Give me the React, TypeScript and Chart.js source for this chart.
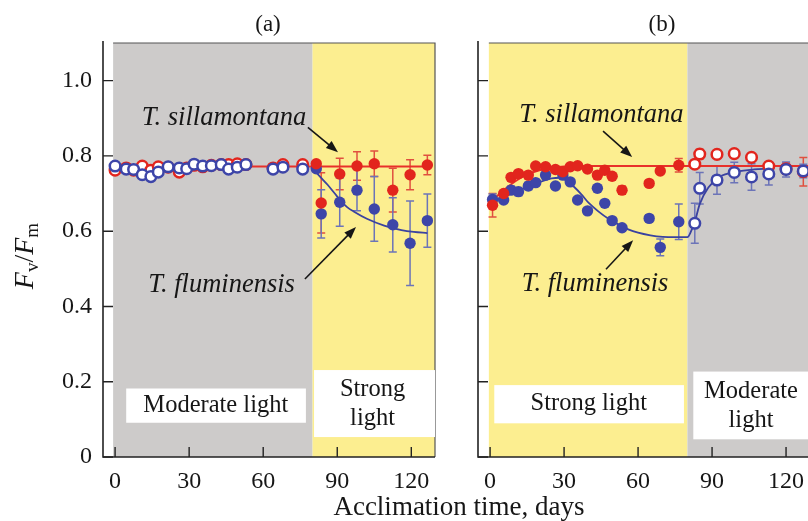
import React, { useEffect, useRef } from "react";
import { Chart, registerables } from "chart.js";

Chart.register(...registerables);

const SERIF = '"Liberation Serif", "Times New Roman", Times, serif';
const RED = "#e2251d";
const BLUE = "#3d45a8";
const RED_ERR = "#e0503f";
const BLUE_ERR = "#6c74b8";
const RED_FIT = "#e8302a";
const BLUE_FIT = "#3a42a0";
const GRAY = "#cdcbca";
const YELLOW = "#fcee90";
const INK = "#161616";

const xTickValues = [0, 30, 60, 90, 120];
const yTickValues = [0, 0.2, 0.4, 0.6, 0.8, 1.0];

// ---------- Panel (a): moderate light, then strong light ----------
const aOpenDays = [0, 4.5, 7.5, 11, 14.5, 17.5, 21.5, 26, 29, 32, 35.5, 39, 43, 46, 49.5, 53, 64, 68, 76];
const aOpenBlue = [0.773, 0.765, 0.764, 0.75, 0.745, 0.757, 0.771, 0.768, 0.766, 0.778, 0.773, 0.774, 0.777, 0.765, 0.77, 0.777, 0.765, 0.77, 0.765];
const aOpenRed = [0.762, 0.768, 0.762, 0.773, 0.762, 0.771, 0.77, 0.757, 0.768, 0.775, 0.771, 0.775, 0.777, 0.777, 0.779, 0.777, 0.768, 0.777, 0.777];

const aFilledDays = [81.5, 83.5, 91, 98, 105, 112.5, 119.5, 126.5];
const aFilledRed = [0.779, 0.675, 0.752, 0.773, 0.779, 0.709, 0.75, 0.776];
const aFilledRedErr = [0, 0.08, 0.042, 0.038, 0.034, 0.058, 0.04, 0.026];
const aFilledBlue = [0.766, 0.646, 0.677, 0.709, 0.659, 0.617, 0.568, 0.628];
const aFilledBlueErr = [0, 0.064, 0.064, 0.055, 0.086, 0.072, 0.112, 0.071];

const aRedFitDays = [0, 126.5];
const aRedFitVals = [0.772, 0.772];
const aBlueFitDays = [80, 83, 86, 89, 91.5, 94, 97, 102, 109, 116, 121, 126.5];
const aBlueFitVals = [0.768, 0.745, 0.724, 0.7, 0.68, 0.664, 0.651, 0.633, 0.615, 0.603, 0.598, 0.595];

// ---------- Panel (b): strong light, then moderate light ----------
const bFilledDays = [1, 5.5, 8.5, 11.5, 15.5, 18.5, 22.5, 26.5, 29.5, 32.5, 35.5, 39.5, 43.5, 46.5, 49.5, 53.5, 64.5, 69, 76.5];
const bFilledRed = [0.669, 0.7, 0.743, 0.753, 0.749, 0.773, 0.771, 0.764, 0.758, 0.771, 0.774, 0.765, 0.749, 0.762, 0.746, 0.709, 0.727, 0.76, 0.775];
const bFilledRedErr = [0.031, 0, 0, 0, 0, 0, 0, 0, 0, 0, 0, 0, 0, 0, 0, 0.011, 0, 0, 0.018];
const bFilledBlue = [0.684, 0.683, 0.709, 0.705, 0.72, 0.729, 0.749, 0.72, 0.749, 0.731, 0.683, 0.654, 0.714, 0.674, 0.628, 0.609, 0.634, 0.557, 0.625];
const bFilledBlueErr = [0.015, 0, 0.011, 0.011, 0.01, 0, 0, 0, 0, 0, 0, 0, 0, 0, 0, 0, 0.009, 0.022, 0.047];

const bOpenDays = [83, 85, 92, 99, 106, 113, 120, 127];
const bOpenRed = [0.778, 0.805, 0.804, 0.806, 0.796, 0.773, 0.766, 0.758];
const bOpenRedErr = [0, 0.013, 0.008, 0.008, 0.01, 0.01, 0.015, 0.038];
const bOpenBlue = [0.621, 0.714, 0.736, 0.756, 0.744, 0.752, 0.764, 0.76];
const bOpenBlueErr = [0.053, 0.042, 0.038, 0.027, 0.035, 0.029, 0.02, 0.018];

const bRedFitDays = [0, 4, 8, 12, 16, 20, 25, 30, 35, 129];
const bRedFitVals = [0.675, 0.7, 0.722, 0.74, 0.753, 0.762, 0.768, 0.772, 0.773, 0.773];
const bBlueFitDays = [0, 5, 10, 15, 20, 25, 28, 31, 34, 37, 40, 44, 48, 52, 56, 60, 65, 70, 75, 80, 81.5, 83, 85, 88.5, 93, 100, 107, 113];
const bBlueFitVals = [0.68, 0.69, 0.703, 0.717, 0.73, 0.74, 0.742, 0.735, 0.718, 0.698, 0.675, 0.652, 0.633, 0.618, 0.605, 0.596, 0.589, 0.585, 0.584, 0.584, 0.6, 0.625, 0.672, 0.716, 0.744, 0.758, 0.764, 0.766];

const pts = (xs: number[], ys: number[]) => xs.map((x, i) => ({ x, y: ys[i] }));

type Region = { from: number; to: number; color: string };
type Box = { x0: number; x1: number; y0: number; y1: number; lines: string[]; tx: number; ty: number };
type Note = { text: string; tx: number; ty: number; ax0: number; ay0: number; ax1: number; ay1: number };
type ErrSet = { days: number[]; vals: number[]; errs: number[]; color: string };

interface PanelCfg {
  id: string;
  title: string;
  titleX: number;
  yAxisWidth: number;
  padRight: number;
  xMax: number;
  showYLabels: boolean;
  frameRight: boolean;
  shared: boolean;
  regions: Region[];
  boxes: Box[];
  notes: Note[];
  errs: ErrSet[];
  redOpen: { x: number; y: number }[];
  blueOpen: { x: number; y: number }[];
  redFilled: { x: number; y: number }[];
  blueFilled: { x: number; y: number }[];
  redFit: { x: number; y: number }[];
  blueFit: { x: number; y: number }[];
}

const panelA: PanelCfg = {
  id: "a",
  title: "(a)",
  titleX: 268,
  yAxisWidth: 103,
  padRight: 373,
  xMax: 129.6,
  showYLabels: true,
  frameRight: true,
  shared: true,
  regions: [
    { from: -0.8, to: 80, color: GRAY },
    { from: 80, to: 200, color: YELLOW },
  ],
  boxes: [
    { x0: 4.5, x1: 77.3, y0: 0.091, y1: 0.182, lines: ["Moderate light"], tx: 40.8, ty: 0.137 },
    { x0: 80.6, x1: 200, y0: 0.053, y1: 0.231, lines: ["Strong", "light"], tx: 104.3, ty: 0.14 },
  ],
  notes: [
    { text: "T. sillamontana", tx: 10.8, ty: 0.9, ax0: 78.1, ay0: 0.876, ax1: 90.3, ay1: 0.81 },
    { text: "T. fluminensis", tx: 13.4, ty: 0.457, ax0: 76.9, ay0: 0.473, ax1: 97.6, ay1: 0.611 },
  ],
  errs: [
    { days: aFilledDays, vals: aFilledRed, errs: aFilledRedErr, color: RED_ERR },
    { days: aFilledDays, vals: aFilledBlue, errs: aFilledBlueErr, color: BLUE_ERR },
  ],
  redOpen: pts(aOpenDays, aOpenRed),
  blueOpen: pts(aOpenDays, aOpenBlue),
  redFilled: pts(aFilledDays, aFilledRed),
  blueFilled: pts(aFilledDays, aFilledBlue),
  redFit: pts(aRedFitDays, aRedFitVals),
  blueFit: pts(aBlueFitDays, aBlueFitVals),
};

const panelB: PanelCfg = {
  id: "b",
  title: "(b)",
  titleX: 662,
  yAxisWidth: 478,
  padRight: 0,
  xMax: 128.9,
  showYLabels: false,
  frameRight: false,
  shared: false,
  regions: [
    { from: -0.5, to: 80, color: YELLOW },
    { from: 80, to: 200, color: GRAY },
  ],
  boxes: [
    { x0: 1.7, x1: 78.6, y0: 0.0895, y1: 0.191, lines: ["Strong light"], tx: 40, ty: 0.142 },
    { x0: 82.4, x1: 200, y0: 0.047, y1: 0.227, lines: ["Moderate", "light"], tx: 105.8, ty: 0.136 },
  ],
  notes: [
    { text: "T. sillamontana", tx: 11.8, ty: 0.908, ax0: 45.8, ay0: 0.866, ax1: 57.6, ay1: 0.797 },
    { text: "T. fluminensis", tx: 12.8, ty: 0.459, ax0: 47, ay0: 0.499, ax1: 58, ay1: 0.576 },
  ],
  errs: [
    { days: bFilledDays, vals: bFilledRed, errs: bFilledRedErr, color: RED_ERR },
    { days: bFilledDays, vals: bFilledBlue, errs: bFilledBlueErr, color: BLUE_ERR },
    { days: bOpenDays, vals: bOpenRed, errs: bOpenRedErr, color: RED_ERR },
    { days: bOpenDays, vals: bOpenBlue, errs: bOpenBlueErr, color: BLUE_ERR },
  ],
  redOpen: pts(bOpenDays, bOpenRed),
  blueOpen: pts(bOpenDays, bOpenBlue),
  redFilled: pts(bFilledDays, bFilledRed),
  blueFilled: pts(bFilledDays, bFilledBlue),
  redFit: pts(bRedFitDays, bRedFitVals),
  blueFit: pts(bBlueFitDays, bBlueFitVals),
};

function drawArrow(ctx: CanvasRenderingContext2D, x0: number, y0: number, x1: number, y1: number) {
  const ang = Math.atan2(y1 - y0, x1 - x0);
  const hl = 12;
  const hw = 4.5;
  const c = Math.cos(ang);
  const s = Math.sin(ang);
  ctx.strokeStyle = INK;
  ctx.lineWidth = 1.6;
  ctx.beginPath();
  ctx.moveTo(x0, y0);
  ctx.lineTo(x1 - c * hl * 0.8, y1 - s * hl * 0.8);
  ctx.stroke();
  ctx.fillStyle = INK;
  ctx.beginPath();
  ctx.moveTo(x1, y1);
  ctx.lineTo(x1 - hl * c + hw * s, y1 - hl * s - hw * c);
  ctx.lineTo(x1 - hl * c - hw * s, y1 - hl * s + hw * c);
  ctx.closePath();
  ctx.fill();
}

function drawYTitle(ctx: CanvasRenderingContext2D) {
  ctx.save();
  ctx.translate(33, 256);
  ctx.rotate(-Math.PI / 2);
  const parts = [
    { t: "F", f: `italic 28px ${SERIF}`, dy: 0 },
    { t: "v", f: `19px ${SERIF}`, dy: 5 },
    { t: "/", f: `28px ${SERIF}`, dy: 0 },
    { t: "F", f: `italic 28px ${SERIF}`, dy: 0 },
    { t: "m", f: `19px ${SERIF}`, dy: 5 },
  ];
  const widths = parts.map((p) => {
    ctx.font = p.f;
    return ctx.measureText(p.t).width;
  });
  const total = widths.reduce((a, b) => a + b, 0);
  let cx = -total / 2;
  ctx.textAlign = "left";
  ctx.textBaseline = "alphabetic";
  ctx.fillStyle = INK;
  parts.forEach((p, i) => {
    ctx.font = p.f;
    ctx.fillText(p.t, cx, p.dy);
    cx += widths[i];
  });
  ctx.restore();
}

function makePlugin(cfg: PanelCfg) {
  return {
    id: "panelDecor" + cfg.id,
    beforeDatasetsDraw(chart: any) {
      const { ctx, chartArea: ca } = chart;
      const x = chart.scales.x;
      const y = chart.scales.y;
      ctx.save();
      // shaded light regimes
      cfg.regions.forEach((r) => {
        const x0 = Math.max(x.getPixelForValue(r.from), ca.left);
        const x1 = Math.min(x.getPixelForValue(r.to), ca.right);
        ctx.fillStyle = r.color;
        ctx.fillRect(x0, ca.top, x1 - x0, ca.bottom - ca.top);
      });
      const shadeStart = Math.max(x.getPixelForValue(cfg.regions[0].from), ca.left);
      ctx.strokeStyle = "#555";
      ctx.lineWidth = 1.2;
      ctx.beginPath();
      ctx.moveTo(shadeStart, ca.top);
      ctx.lineTo(ca.right, ca.top);
      if (cfg.frameRight) ctx.lineTo(ca.right, ca.bottom);
      ctx.stroke();
      // label boxes
      cfg.boxes.forEach((b) => {
        const x0 = x.getPixelForValue(b.x0);
        const x1 = Math.min(x.getPixelForValue(b.x1), ca.right);
        const y0 = y.getPixelForValue(b.y1);
        const y1 = y.getPixelForValue(b.y0);
        ctx.fillStyle = "#ffffff";
        ctx.fillRect(x0, y0, x1 - x0, y1 - y0);
        ctx.fillStyle = INK;
        ctx.font = `24.5px ${SERIF}`;
        ctx.textAlign = "center";
        ctx.textBaseline = "middle";
        const lh = 28.5;
        const cy = y.getPixelForValue(b.ty);
        const tx = x.getPixelForValue(b.tx);
        b.lines.forEach((ln, i) => {
          ctx.fillText(ln, tx, cy + (i - (b.lines.length - 1) / 2) * lh);
        });
      });
      // error bars
      cfg.errs.forEach((e) => {
        ctx.strokeStyle = e.color;
        ctx.lineWidth = 1.5;
        e.days.forEach((d, i) => {
          const er = e.errs[i];
          if (!er) return;
          const px = x.getPixelForValue(d);
          const top = y.getPixelForValue(e.vals[i] + er);
          const bot = y.getPixelForValue(e.vals[i] - er);
          ctx.beginPath();
          ctx.moveTo(px, top);
          ctx.lineTo(px, bot);
          ctx.moveTo(px - 4, top);
          ctx.lineTo(px + 4, top);
          ctx.moveTo(px - 4, bot);
          ctx.lineTo(px + 4, bot);
          ctx.stroke();
        });
      });
      ctx.restore();
    },
    afterDatasetsDraw(chart: any) {
      const { ctx, chartArea: ca } = chart;
      const x = chart.scales.x;
      const y = chart.scales.y;
      ctx.save();
      // axes
      ctx.strokeStyle = "#222";
      ctx.lineWidth = 1.6;
      ctx.beginPath();
      ctx.moveTo(ca.left, ca.top - 2);
      ctx.lineTo(ca.left, ca.bottom);
      ctx.lineTo(ca.right, ca.bottom);
      ctx.stroke();
      // inward tick marks
      ctx.lineWidth = 1.4;
      ctx.beginPath();
      xTickValues.forEach((v) => {
        const px = x.getPixelForValue(v);
        ctx.moveTo(px, ca.bottom);
        ctx.lineTo(px, ca.bottom - 10);
      });
      yTickValues.forEach((v) => {
        const py = y.getPixelForValue(v);
        ctx.moveTo(ca.left, py);
        ctx.lineTo(ca.left + 10, py);
      });
      ctx.stroke();
      // species annotations
      cfg.notes.forEach((n) => {
        ctx.fillStyle = INK;
        ctx.font = `italic 26.5px ${SERIF}`;
        ctx.textAlign = "left";
        ctx.textBaseline = "middle";
        ctx.fillText(n.text, x.getPixelForValue(n.tx), y.getPixelForValue(n.ty));
        drawArrow(
          ctx,
          x.getPixelForValue(n.ax0),
          y.getPixelForValue(n.ay0),
          x.getPixelForValue(n.ax1),
          y.getPixelForValue(n.ay1)
        );
      });
      // panel title
      ctx.fillStyle = INK;
      ctx.font = `23px ${SERIF}`;
      ctx.textAlign = "center";
      ctx.textBaseline = "middle";
      ctx.fillText(cfg.title, cfg.titleX, 25);
      if (cfg.shared) {
        ctx.font = `27px ${SERIF}`;
        ctx.fillText("Acclimation time, days", 459, 508);
        drawYTitle(ctx);
      }
      ctx.restore();
    },
  };
}

function makeChart(canvas: HTMLCanvasElement, cfg: PanelCfg) {
  const tickFont = { family: SERIF, size: 24 };
  return new Chart(canvas, {
    type: "scatter",
    data: {
      datasets: [
        {
          label: "T. sillamontana",
          data: cfg.redFilled,
          pointRadius: 5.7,
          pointBackgroundColor: RED,
          pointBorderColor: RED,
          pointBorderWidth: 0,
          order: 1,
        },
        {
          label: "T. fluminensis",
          data: cfg.blueFilled,
          pointRadius: 5.7,
          pointBackgroundColor: BLUE,
          pointBorderColor: BLUE,
          pointBorderWidth: 0,
          order: 2,
        },
        {
          label: "T. fluminensis (moderate)",
          data: cfg.blueOpen,
          pointRadius: 5.3,
          pointBackgroundColor: "#ffffff",
          pointBorderColor: BLUE,
          pointBorderWidth: 2.5,
          order: 3,
        },
        {
          label: "T. sillamontana (moderate)",
          data: cfg.redOpen,
          pointRadius: 5.3,
          pointBackgroundColor: "#ffffff",
          pointBorderColor: RED,
          pointBorderWidth: 2.5,
          order: 4,
        },
        {
          label: "fit fluminensis",
          data: cfg.blueFit,
          showLine: true,
          pointRadius: 0,
          borderColor: BLUE_FIT,
          borderWidth: 1.8,
          cubicInterpolationMode: "monotone",
          fill: false,
          order: 5,
        },
        {
          label: "fit sillamontana",
          data: cfg.redFit,
          showLine: true,
          pointRadius: 0,
          borderColor: RED_FIT,
          borderWidth: 2,
          cubicInterpolationMode: "monotone",
          fill: false,
          order: 6,
        },
      ] as any,
    },
    options: {
      animation: false,
      responsive: false,
      maintainAspectRatio: false,
      devicePixelRatio: 1,
      events: [],
      layout: {
        autoPadding: false,
        padding: { left: 0, top: 43, right: cfg.padRight, bottom: 0 },
      },
      plugins: {
        legend: { display: false },
        tooltip: { enabled: false },
        title: { display: false },
      },
      scales: {
        x: {
          type: "linear",
          min: -4.9,
          max: cfg.xMax,
          grid: { display: false, drawTicks: false },
          border: { display: false },
          ticks: {
            font: tickFont,
            color: INK,
            padding: 10,
            maxRotation: 0,
            autoSkip: false,
            callback: (v: any) => String(v),
          },
          afterBuildTicks: (s: any) => {
            s.ticks = xTickValues.map((v) => ({ value: v }));
          },
          afterFit: (s: any) => {
            s.height = 64;
            s.paddingLeft = 0;
            s.paddingRight = 0;
          },
        },
        y: {
          type: "linear",
          min: 0,
          max: 1.1,
          grid: { display: false, drawTicks: false },
          border: { display: false },
          ticks: {
            display: cfg.showYLabels,
            font: tickFont,
            color: INK,
            padding: 11,
            callback: (v: any) => (v === 0 ? "0" : Number(v).toFixed(1)),
          },
          afterBuildTicks: (s: any) => {
            s.ticks = yTickValues.map((v) => ({ value: v }));
          },
          afterFit: (s: any) => {
            s.width = cfg.yAxisWidth;
            s.paddingTop = 0;
            s.paddingBottom = 0;
          },
        },
      },
    } as any,
    plugins: [makePlugin(cfg)],
  });
}

export default function App() {
  const refA = useRef<HTMLCanvasElement>(null);
  const refB = useRef<HTMLCanvasElement>(null);
  useEffect(() => {
    const a = makeChart(refA.current as HTMLCanvasElement, panelA);
    const b = makeChart(refB.current as HTMLCanvasElement, panelB);
    return () => {
      a.destroy();
      b.destroy();
    };
  }, []);
  return (
    <div
      style={{
        position: "fixed",
        left: 0,
        top: 0,
        width: 808,
        height: 521,
        overflow: "hidden",
        background: "#ffffff",
      }}
    >
      <canvas ref={refA} width={808} height={521} style={{ position: "absolute", left: 0, top: 0 }} />
      <canvas ref={refB} width={808} height={521} style={{ position: "absolute", left: 0, top: 0 }} />
    </div>
  );
}
